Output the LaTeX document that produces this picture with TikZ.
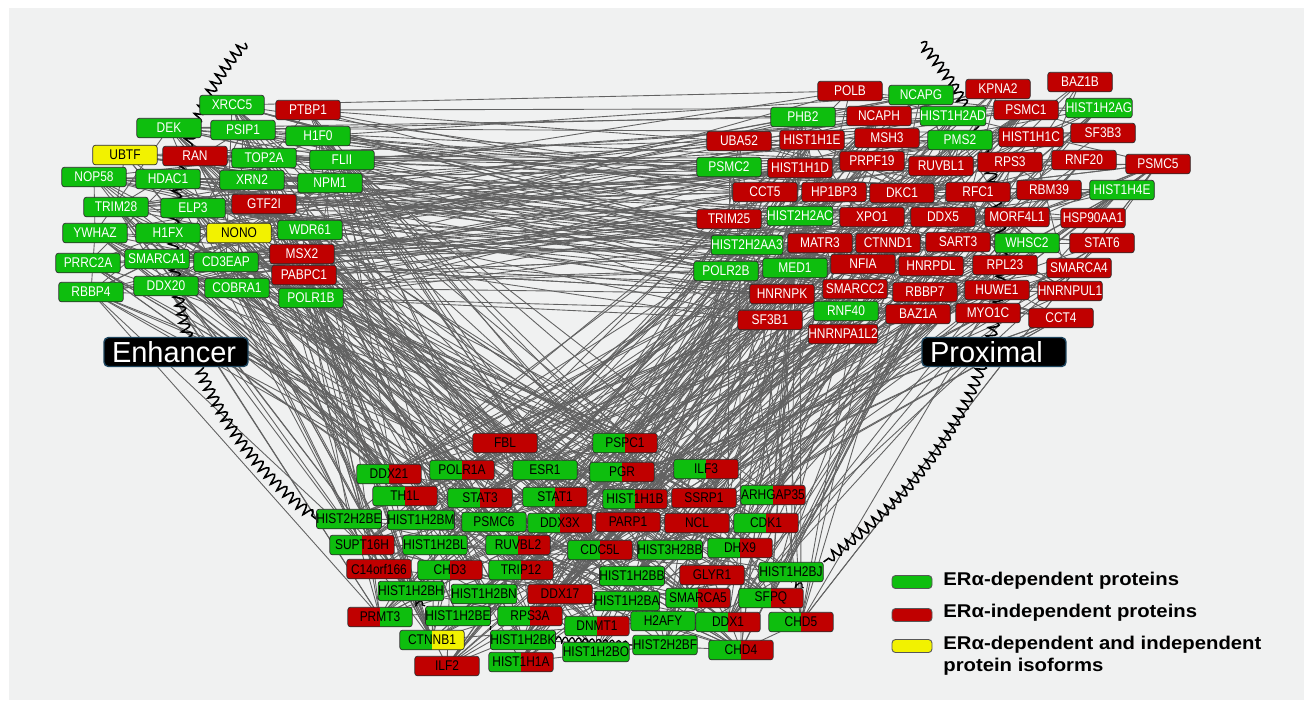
\documentclass[tikz,border=0pt]{standalone}
\usepackage{fontspec}
\setmainfont{Liberation Sans}
\newfontfamily\nodefont[FakeStretch=0.85]{Liberation Sans}
\newfontfamily\legfont[FakeStretch=1.1]{Liberation Sans}
\usetikzlibrary{decorations.pathmorphing}
\pgfdeclarelayer{bgl}
\pgfdeclarelayer{edges}
\pgfsetlayers{bgl,edges,main}
\definecolor{gr}{RGB}{14,190,14}
\definecolor{rd}{RGB}{192,0,0}
\definecolor{yl}{RGB}{242,242,0}
\definecolor{bgc}{RGB}{240,241,241}
\definecolor{edgec}{RGB}{98,98,98}
\definecolor{bord}{RGB}{45,45,45}
\definecolor{labbord}{RGB}{30,70,95}
\newcommand\rndedges[5]{\foreach \k in {1,...,#1}{\pgfmathrandominteger{\ia}{1}{#3}\pgfmathrandominteger{\ib}{1}{#5}\draw[ln] (#2\ia.center) -- (#4\ib.center);}}
\tikzset{
  box/.style={draw=bord, line width=0.4pt, rounded corners=1.5pt, minimum width=1.29cm, minimum height=0.39cm, inner sep=0pt, font=\nodefont\fontsize{8}{8}\selectfont},
  gbox/.style={box, fill=gr, text=white},
  rbox/.style={box, fill=rd, text=white},
  ybox/.style={box, fill=yl, text=black},
  gb/.style={box, fill=gr, text=black},
  rb/.style={box, fill=rd, text=black},
  sp/.style 2 args={box, text=black, path picture={\fill[#1, sharp corners] (path picture bounding box.south west) rectangle (path picture bounding box.north); \fill[#2, sharp corners] (path picture bounding box.south) rectangle (path picture bounding box.north east);}},
  gs/.style={sp={gr}{rd}},
  rg/.style={sp={rd}{gr}},
  gy/.style={sp={gr}{yl}},
  ln/.style={draw=edgec, line width=0.5pt},
  coilst/.style={draw=black, line width=0.9pt, decorate, decoration={coil, amplitude=2.8pt, segment length=5pt, aspect=0.15}},
  coilsm/.style={draw=black, line width=0.7pt, decorate, decoration={coil, amplitude=2pt, segment length=3.8pt, aspect=0.3}},
  lab/.style={fill=black, draw=labbord, line width=0.8pt, rounded corners=2.5pt, text=white, font=\fontsize{16.5}{18}\selectfont, minimum height=0.58cm, inner xsep=0.16cm, inner ysep=0pt, text width=2.56cm, align=left},
  legbox/.style={draw=bord!80, line width=0.5pt, rounded corners=2pt, minimum width=0.8cm, minimum height=0.26cm, inner sep=0pt},
  legtxt/.style={anchor=west, inner sep=0pt, font=\legfont\bfseries\fontsize{10.5}{12.5}\selectfont, align=left}
}
\begin{document}
\begin{tikzpicture}[x=0.02cm,y=-0.02cm]
\useasboundingbox (0,0) rectangle (1312,708);
\begin{pgfonlayer}{bgl}
\fill[white] (0,0) rectangle (1312,708);
\fill[bgc] (9,8) rectangle (1304,700);
\end{pgfonlayer}
% Enhancer cluster
\foreach \n/\x/\y/\s [count=\i] in {XRCC5/232/105/gbox, PTBP1/308/110/rbox, DEK/169/128/gbox, PSIP1/243/130/gbox, H1F0/318/136/gbox, UBTF/125/155/ybox, RAN/195/156/rbox, TOP2A/264/158/gbox, FLII/342/160/gbox, NOP58/94/177/gbox, HDAC1/168/179/gbox, XRN2/252/180/gbox, NPM1/330/183/gbox, TRIM28/116/207/gbox, ELP3/193/208/gbox, GTF2I/264/204/rbox, YWHAZ/95/233/gbox, H1FX/168/233/gbox, NONO/239/233/ybox, WDR61/310/230/gbox, PRRC2A/88/263/gbox, SMARCA1/157/259/gbox, CD3EAP/226/262/gbox, MSX2/302/254/rbox, PABPC1/304/275/rbox, RBBP4/91/292/gbox, DDX20/166/286/gbox, COBRA1/237/288/gbox, POLR1B/311/298/gbox}
  {\node[\s, alias=L\i] (\n) at (\x,\y) {\n};}
% Proximal cluster
\foreach \n/\x/\y/\s [count=\i] in {POLB/850/91/rbox, NCAPG/921/95/gbox, KPNA2/998/89/rbox, BAZ1B/1080/82/rbox, PHB2/803/117/gbox, NCAPH/879/116/rbox, HIST1H2AD/953/116/gbox, PSMC1/1026/110/rbox, HIST1H2AG/1099/108/gbox, UBA52/739/141/rbox, HIST1H1E/812/140/rbox, MSH3/887/138/rbox, PMS2/960/140/gbox, HIST1H1C/1031/137/rbox, SF3B3/1103/133/rbox, PSMC2/729/167/gbox, HIST1H1D/800/168/rbox, PRPF19/872/161/rbox, RUVBL1/941/166/rbox, RPS3/1010/162/rbox, RNF20/1084/160/rbox, PSMC5/1158/164/rbox, CCT5/765/192/rbox, HP1BP3/834/192/rbox, DKC1/902/193/rbox, RFC1/978/192/rbox, RBM39/1049/190/rbox, HIST1H4E/1122/190/gbox, TRIM25/729/219/rbox, HIST2H2AC/800/216/gbox, XPO1/872/217/rbox, DDX5/943/217/rbox, MORF4L1/1017/217/rbox, HSP90AA1/1093/218/rbox, HIST2H2AA3/747/245/gbox, MATR3/820/243/rbox, CTNND1/888/243/rbox, SART3/958/242/rbox, WHSC2/1027/243/gbox, STAT6/1102/243/rbox, POLR2B/726/271/gbox, MED1/795/268/gbox, NFIA/863/264/rbox, HNRPDL/931/266/rbox, RPL23/1005/265/rbox, SMARCA4/1079/268/rbox, HNRNPK/782/294/rbox, SMARCC2/855/289/rbox, RBBP7/925/292/rbox, HUWE1/997/290/rbox, HNRNPUL1/1070/291/rbox, RNF40/846/311/gbox, SF3B1/770/320/rbox, BAZ1A/918/314/rbox, MYO1C/988/313/rbox, CCT4/1061/318/rbox, HNRNPA1L2/843/334/rbox}
  {\node[\s, alias=R\i] (\n) at (\x,\y) {\n};}
% bottom cluster
\foreach \n/\x/\y/\s [count=\i] in {FBL/505/443/rb, PSPC1/625/443/gs, DDX21/389/474/gs, POLR1A/462/470/gs, ESR1/545/470/gb, PGR/622/472/gs, ILF3/706/469/gs, TH1L/405/496/gs, STAT3/480/498/gs, STAT1/555/497/gs, HIST1H1B/635/499/gs, SSRP1/704/498/rb, ARHGAP35/773/495/gs, HIST2H2BE/349/519/gb, HIST1H2BM/421/520/gb, PSMC6/494/522/gb, DDX3X/560/523/gs, PARP1/628/522/rb, NCL/697/523/rb, CDK1/766/523/gs, SUPT16H/362/545/gs, HIST1H2BL/435/545/gb, RUVBL2/518/545/gs, CDC5L/600/550/gs, HIST3H2BB/670/550/gb, DHX9/740/548/gs, C14orf166/379/569/rb, CHD3/450/570/gs, TRIP12/521/570/gs, HIST1H2BB/632/576/gb, GLYR1/712/575/rb, HIST1H2BJ/791/572/gb, HIST1H2BH/411/591/gb, HIST1H2BN/484/594/gb, DDX17/560/594/rb, HIST1H2BA/627/601/gb, SMARCA5/698/598/gs, SFPQ/771/598/gs, PRMT3/380/617/rg, HIST1H2BE/458/616/gb, RPS3A/530/616/gs, DNMT1/597/626/gs, H2AFY/663/621/gb, DDX1/728/622/gs, CHD5/801/622/gs, CTNNB1/432/640/gy, HIST1H2BK/523/640/gb, HIST2H2BF/665/645/gb, CHD4/741/650/gs, HIST1H2BO/596/652/gb, ILF2/447/666/rb, HIST1H1A/521/662/gs}
  {\node[\s, alias=B\i] (\n) at (\x,\y) {\n};}
% labels
\node[lab] (enh) at (176,352) {Enhancer};
\node[lab] (prox) at (994,352) {Proximal};
% legend
\node[legbox, fill=gr] (lg1) at (912,582) {};
\node[legbox, fill=rd] (lg2) at (912,615) {};
\node[legbox, fill=yl] (lg3) at (912,646) {};
\node[legtxt] (lt1) at (943,581) {ERα-dependent proteins};
\node[legtxt] (lt2) at (943,613) {ERα-independent proteins};
\node[legtxt, anchor=north west] (lt3) at (943,636) {ERα-dependent and independent\\protein isoforms};
% edges
\begin{pgfonlayer}{edges}
\pgfmathsetseed{12345}
\rndedges{140}{L}{29}{R}{57}
\rndedges{170}{L}{29}{B}{52}
\rndedges{240}{R}{57}{B}{52}
\rndedges{110}{B}{52}{B}{52}
\rndedges{80}{R}{57}{R}{57}
\rndedges{50}{L}{29}{L}{29}
\coordinate (lctop) at (245,43);
\coordinate (rctop) at (921,43);
\draw[coilst] (lctop) .. controls (140,160) and (140,380) .. (HIST2H2BE.west);
\draw[coilst] (rctop) .. controls (1035,170) and (1050,400) .. (HIST1H2BJ.north east);
\draw[coilsm] (HIST1H2BK.east) -- (HIST2H2BF.west);
\draw[coilsm] (HIST1H2BE.south east) -- (HIST1H2BK.north west);
\draw[coilsm] (HIST1H2BH.south) -- (HIST1H2BE.north west);
\draw[coilsm] (HIST1H2BJ.south) -- (SFPQ.north east);
\end{pgfonlayer}
\end{tikzpicture}
\end{document}
